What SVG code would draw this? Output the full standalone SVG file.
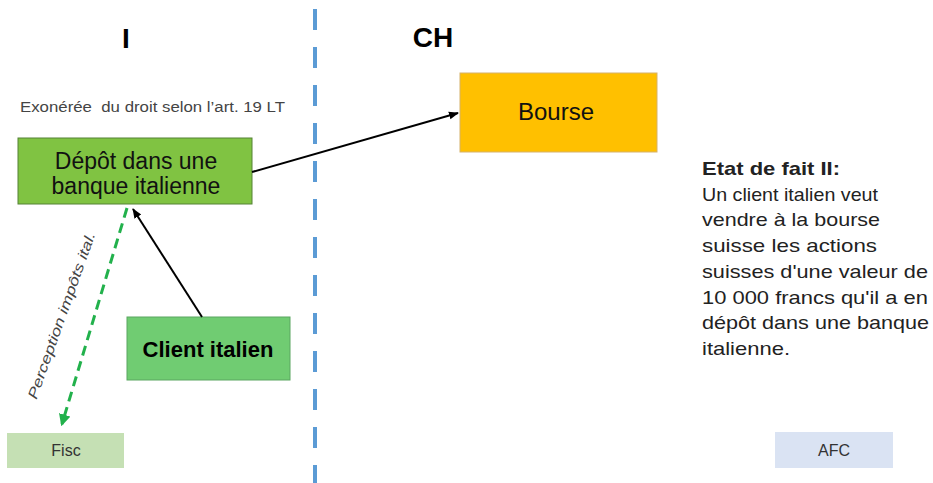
<svg xmlns="http://www.w3.org/2000/svg" width="933" height="483" viewBox="0 0 933 483">
<style>
text{font-family:"Liberation Sans",Arial,sans-serif}
.title{font-size:28px;font-weight:bold;fill:#000}
.node{font-size:23px;fill:#111}
.small{font-size:14px;fill:#444}
.info{font-size:19px;fill:#222}
.lbl{font-size:16px;fill:#333}
</style>
<defs>
<marker id="ab" viewBox="0 0 10 10" refX="9" refY="5" markerWidth="5" markerHeight="5" orient="auto"><path d="M0,1 L10,5 L0,9 z" fill="#000"/></marker>
<marker id="ag" viewBox="0 0 10 10" refX="8" refY="5" markerWidth="4" markerHeight="4" orient="auto"><path d="M0,0 L10,5 L0,10 z" fill="#22b14c"/></marker>
</defs>
<rect width="933" height="483" fill="#fff"/>
<line x1="315" y1="9" x2="315" y2="483" stroke="#5b9bd5" stroke-width="4" stroke-dasharray="21 17"/>
<text class="title" x="126" y="48" text-anchor="middle">I</text>
<text class="title" x="433" y="47" text-anchor="middle">CH</text>
<text class="small" x="20" y="112" xml:space="preserve" textLength="265" lengthAdjust="spacingAndGlyphs">Exonérée  du droit selon l’art. 19 LT</text>
<g id="depot">
<rect x="18" y="138" width="234" height="66" fill="#80c342" stroke="#548235" stroke-width="1"/>
<text class="node" x="136" y="169" text-anchor="middle">Dépôt dans une</text>
<text class="node" x="136" y="194" text-anchor="middle">banque italienne</text>
</g>
<g id="bourse">
<rect x="460" y="73" width="197" height="79" fill="#ffc000" stroke="#d6b26a" stroke-width="1"/>
<text class="node" x="556" y="120" text-anchor="middle" style="font-size:24px">Bourse</text>
</g>
<g id="client">
<rect x="127" y="317" width="163" height="63" fill="#70cc72" stroke="#5aa660" stroke-width="1"/>
<text class="node" x="208" y="357" text-anchor="middle" style="font-weight:bold;font-size:22px;fill:#000">Client italien</text>
</g>
<g id="fisc">
<rect x="7" y="433" width="117" height="35" fill="#c5e0b4"/>
<text class="lbl" x="66" y="456" text-anchor="middle">Fisc</text>
</g>
<g id="afc">
<rect x="775" y="432" width="118" height="36" fill="#dae3f3"/>
<text class="lbl" x="834" y="456" text-anchor="middle">AFC</text>
</g>
<g id="etat">
<text class="info" x="702" y="175" font-weight="bold" textLength="138" lengthAdjust="spacingAndGlyphs">Etat de fait II:</text>
<text class="info" x="702" y="201" textLength="176" lengthAdjust="spacingAndGlyphs">Un client italien veut</text>
<text class="info" x="702" y="226" textLength="178" lengthAdjust="spacingAndGlyphs">vendre à la bourse</text>
<text class="info" x="702" y="252" textLength="175" lengthAdjust="spacingAndGlyphs">suisse les actions</text>
<text class="info" x="702" y="278" textLength="226" lengthAdjust="spacingAndGlyphs">suisses d'une valeur de</text>
<text class="info" x="702" y="304" textLength="226" lengthAdjust="spacingAndGlyphs">10 000 francs qu'il a en</text>
<text class="info" x="702" y="329" textLength="227" lengthAdjust="spacingAndGlyphs">dépôt dans une banque</text>
<text class="info" x="702" y="355" textLength="88" lengthAdjust="spacingAndGlyphs">italienne.</text>
</g>
<g id="connectors" fill="none">
<line x1="252" y1="172" x2="458" y2="113" stroke="#000" stroke-width="2" marker-end="url(#ab)"/>
<line x1="202" y1="317" x2="133" y2="209" stroke="#000" stroke-width="2" marker-end="url(#ab)"/>
<line x1="127" y1="208" x2="62" y2="424" stroke="#22b14c" stroke-width="3" stroke-dasharray="10 6" marker-end="url(#ag)"/>
<text x="66" y="317" transform="rotate(-70.4 66 317)" text-anchor="middle" textLength="176" lengthAdjust="spacingAndGlyphs" style="font-family:'Liberation Sans',Arial,sans-serif;font-size:14px;font-style:italic;fill:#444;stroke:none">Perception impôts ital.</text>
</g>
</svg>
